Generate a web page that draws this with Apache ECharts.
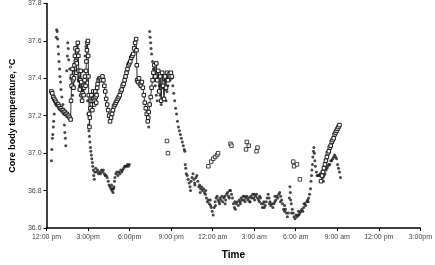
<!DOCTYPE html>
<html><head><meta charset="utf-8">
<script src="https://cdn.jsdelivr.net/npm/echarts@6/dist/echarts.min.js"></script>
<style>html,body{margin:0;padding:0;background:#fff}#c{width:435px;height:265px}</style>
</head><body><div id="c"></div>
<script>
// Hours since 12:00 pm, core body temperature (°C)
var xTickLabels = ["12:00 pm","3:00pm","6:00pm","9:00 pm","12:00 am","3:00 am","6:00 am","9:00 am","12:00 pm","3:00pm"];
var yTicks = [36.6, 36.8, 37.0, 37.2, 37.4, 37.6, 37.8];

// Subject A (filled dots), afternoon
var dotsDay = [
[0.35,36.96],[0.38,37.02],[0.42,37.08],[0.45,37.10],[0.49,37.14],[0.52,37.17],[0.56,37.21],
[0.70,37.62],[0.73,37.66],[0.77,37.65],[0.80,37.61],[0.84,37.57],[0.87,37.53],[0.90,37.49],[0.94,37.45],[0.97,37.41],[1.01,37.38],[1.04,37.34],[1.11,37.30],[1.18,37.26],[1.25,37.21],[1.29,37.15],[1.32,37.11],[1.36,37.08],[1.39,37.04],
[1.46,37.44],[1.50,37.52],[1.53,37.59],[1.57,37.56],[1.60,37.50],[1.67,37.45],[1.74,37.40],[1.81,37.35],[1.88,37.31],[1.95,37.36],[2.02,37.44],[2.09,37.52],[2.16,37.57],[2.23,37.49],[2.30,37.41],[2.37,37.36],[2.44,37.31],[2.51,37.28],[2.57,37.34],[2.64,37.39],[2.71,37.44],[2.78,37.52],[2.85,37.57],[2.88,37.49],[2.92,37.39],[2.96,37.28],
[2.99,37.21],[3.03,37.15],[3.06,37.12],[3.10,37.09],[3.13,37.06],[3.17,37.03],[3.20,37.01],[3.24,36.99],[3.27,36.97],[3.31,36.95],[3.34,36.93],[3.38,36.91],[3.41,36.88],[3.45,36.86],[3.48,36.90],[3.55,36.92],[3.62,36.90],[3.69,36.91],[3.76,36.89],[3.83,36.90],[3.90,36.89],[3.97,36.91],[4.04,36.90],[4.11,36.91],[4.18,36.89],[4.24,36.88],[4.31,36.88],[4.38,36.87],[4.45,36.85],[4.52,36.83],[4.59,36.82],[4.66,36.81],[4.70,36.83],[4.73,36.80],[4.77,36.81],[4.80,36.79],[4.84,36.81],[4.87,36.82],[4.91,36.85],[4.94,36.87],[5.01,36.89],[5.08,36.90],[5.15,36.88],[5.22,36.90],[5.29,36.89],[5.36,36.91],[5.43,36.90],[5.50,36.91],[5.57,36.92],[5.64,36.93],[5.71,36.93],[5.78,36.93],[5.85,36.94],[5.92,36.93],[5.98,36.94]
];
// Subject A, evening through morning
var dotsNight = [
[7.38,37.14],[7.45,37.65],[7.48,37.62],[7.52,37.59],[7.55,37.56],[7.59,37.53],[7.66,37.49],[7.72,37.45],[7.79,37.41],[7.86,37.36],[7.93,37.31],[8.00,37.28],[8.07,37.33],[8.14,37.36],[8.21,37.31],[8.28,37.26],[8.35,37.29],[8.42,37.35],[8.49,37.39],[8.56,37.34],[8.63,37.28],[8.70,37.33],[8.77,37.36],[8.91,37.39],[9.05,37.40],
[9.12,37.36],[9.19,37.32],[9.26,37.28],[9.32,37.24],[9.39,37.21],[9.46,37.17],[9.53,37.14],[9.60,37.12],[9.67,37.10],[9.74,37.08],[9.81,37.06],[9.88,37.04],[9.95,37.02],[9.99,37.01],
[10.02,36.94],[10.06,36.92],[10.09,36.89],[10.16,36.88],[10.23,36.86],[10.30,36.84],[10.37,36.82],[10.44,36.85],[10.51,36.87],[10.58,36.89],[10.65,36.86],[10.72,36.83],[10.79,36.87],[10.86,36.88],[10.93,36.85],[11.00,36.82],[11.06,36.83],[11.13,36.81],[11.20,36.82],[11.27,36.80],[11.34,36.81],[11.41,36.79],[11.48,36.78],[11.55,36.76],[11.62,36.74],[11.69,36.75],[11.76,36.73],[11.83,36.75],[11.90,36.71],[11.97,36.69],[12.04,36.67],[12.11,36.71],[12.18,36.74],[12.25,36.76],[12.32,36.77],[12.39,36.75],[12.46,36.74],[12.53,36.76],[12.60,36.75],[12.67,36.77],[12.73,36.74],[12.80,36.76],[12.87,36.77],[12.94,36.75],[13.01,36.78],[13.08,36.79],[13.15,36.77],[13.22,36.80],[13.29,36.80],[13.36,36.78],[13.43,36.76],[13.50,36.73],[13.57,36.71],[13.64,36.70],[13.71,36.73],[13.78,36.74],[13.85,36.72],[13.92,36.75],[13.99,36.74],[14.06,36.76],[14.13,36.75],[14.20,36.77],[14.27,36.75],[14.34,36.74],[14.41,36.76],[14.47,36.77],[14.54,36.75],[14.61,36.76],[14.68,36.74],[14.75,36.77],[14.82,36.76],[14.89,36.78],[14.96,36.76],[15.03,36.75],[15.10,36.77],[15.17,36.78],[15.24,36.76],[15.31,36.75],[15.38,36.74],[15.45,36.76],[15.52,36.73],[15.59,36.71],[15.66,36.73],[15.73,36.71],[15.80,36.72],[15.87,36.74],[15.94,36.76],[16.01,36.78],[16.08,36.76],[16.14,36.74],[16.21,36.72],[16.28,36.73],[16.35,36.71],[16.42,36.73],[16.49,36.74],[16.56,36.75],[16.63,36.77],[16.70,36.76],[16.77,36.78],[16.84,36.79],[16.91,36.77],[16.98,36.75],[17.05,36.73],[17.12,36.70],[17.19,36.69],[17.26,36.70],[17.33,36.68],[17.40,36.66],[17.47,36.68],[17.54,36.76],[17.58,36.82],[17.61,36.79],[17.64,36.75],[17.68,36.73],[17.75,36.70],[17.82,36.68],[17.88,36.66],[17.95,36.65],[18.02,36.67],[18.09,36.66],[18.16,36.67],[18.23,36.67],[18.30,36.68],[18.37,36.69],[18.44,36.70],[18.51,36.69],[18.58,36.71],[18.65,36.73],[18.72,36.72],[18.79,36.74],[18.86,36.75],[18.93,36.76],[19.00,36.78],[19.07,36.81],[19.10,36.85],[19.14,36.88],[19.17,36.91],[19.21,36.94],[19.24,36.98],[19.28,37.01],[19.31,37.03],[19.35,37.00],[19.38,36.96],[19.42,36.93],[19.49,36.90],[19.55,36.88],[19.62,36.88],[19.69,36.88],[19.76,36.89],[19.83,36.88],[19.90,36.90],[19.97,36.87],[20.00,36.85],[20.04,36.88],[20.11,36.89],[20.18,36.91],[20.25,36.92],[20.32,36.93],[20.39,36.94],[20.46,36.94],[20.53,36.96],[20.60,36.96],[20.67,36.97],[20.74,36.98],[20.81,36.99],[20.88,36.98],[20.95,36.97],[21.02,36.94],[21.09,36.92],[21.16,36.90],[21.23,36.87]
];
// Subject A, extra overlapping readings in the overnight band
var dotsNightBand = [
[10.40,36.80],[10.70,36.84],[11.10,36.79],[11.50,36.80],[11.85,36.72],[12.20,36.72],[12.50,36.73],[12.90,36.73],[13.20,36.76],[13.60,36.74],[14.00,36.73],[14.30,36.77],[14.70,36.74],[15.00,36.78],[15.40,36.77],[15.70,36.74],[16.10,36.73],[16.50,36.77],[16.90,36.74],[17.20,36.72],[17.70,36.68],[18.20,36.69],[18.60,36.73],[18.90,36.74]
];
// Subject B (open squares), afternoon and evening
var squaresDay = [
[0.35,37.33],[0.42,37.32],[0.49,37.30],[0.56,37.29],[0.63,37.28],[0.70,37.27],[0.77,37.26],[0.84,37.26],[0.90,37.25],[0.97,37.24],[1.04,37.24],[1.11,37.23],[1.18,37.23],[1.25,37.22],[1.32,37.22],[1.39,37.21],[1.46,37.21],[1.53,37.20],[1.60,37.20],[1.67,37.19],[1.74,37.18],
[1.77,37.28],[1.81,37.36],[1.84,37.41],[1.88,37.45],[1.91,37.39],[1.95,37.35],[1.98,37.40],[2.02,37.47],[2.05,37.52],[2.09,37.56],[2.12,37.49],[2.16,37.43],[2.19,37.48],[2.23,37.55],[2.26,37.59],[2.30,37.52],[2.33,37.44],[2.37,37.39],[2.40,37.34],[2.44,37.39],[2.47,37.44],[2.51,37.38],[2.54,37.31],[2.57,37.28],[2.61,37.32],[2.64,37.36],[2.68,37.31],[2.71,37.35],[2.75,37.39],[2.78,37.41],[2.82,37.36],[2.85,37.44],[2.88,37.49],[2.92,37.55],[2.96,37.59],[2.99,37.60],
[3.01,37.52],[3.03,37.41],[3.05,37.31],[3.08,37.21],[3.10,37.14],[3.13,37.19],[3.17,37.24],[3.20,37.28],[3.24,37.31],[3.27,37.26],[3.31,37.23],[3.34,37.28],[3.38,37.33],[3.41,37.29],[3.45,37.26],[3.48,37.28],[3.52,37.33],[3.55,37.30],[3.59,37.27],[3.62,37.31],[3.66,37.35],[3.69,37.37],[3.76,37.39],[3.83,37.40],[3.90,37.40],[3.97,37.39],[4.04,37.41],[4.11,37.39],[4.18,37.36],[4.24,37.33],[4.31,37.29],[4.38,37.26],[4.45,37.23],[4.52,37.20],[4.59,37.17],[4.66,37.19],[4.73,37.21],[4.80,37.23],[4.87,37.25],[4.94,37.26],[5.01,37.27],[5.08,37.28],[5.15,37.29],[5.22,37.30],[5.29,37.31],[5.36,37.33],[5.43,37.34],[5.50,37.36],[5.57,37.37],[5.64,37.39],[5.71,37.41],[5.78,37.43],[5.85,37.45],[5.92,37.47],[5.98,37.48],[6.05,37.49],[6.12,37.51],[6.19,37.52],[6.26,37.53],[6.33,37.56],[6.40,37.59],[6.47,37.61],
[6.50,37.55],[6.52,37.47],[6.54,37.39],[6.61,37.38],[6.68,37.40],[6.75,37.37],[6.82,37.36],[6.89,37.38],[6.96,37.35],[7.03,37.31],[7.10,37.27],[7.17,37.24],[7.24,37.21],[7.31,37.17],[7.35,37.19],[7.38,37.22],[7.45,37.26],[7.52,37.30],[7.59,37.35],[7.66,37.39],[7.72,37.43],[7.79,37.47],[7.86,37.41],[7.93,37.48],[8.00,37.39],[8.07,37.44],[8.14,37.33],[8.21,37.41],[8.28,37.28],[8.35,37.43],[8.42,37.36],[8.49,37.29],[8.56,37.41],[8.63,37.35],[8.70,37.43],[8.77,37.39],[8.84,37.42],[8.91,37.41],[8.98,37.43],[9.05,37.41]
];
// Subject B, scattered night readings
var squaresNight = [
[8.70,37.065],[8.77,37.00],[11.69,36.93],[11.90,36.955],[12.04,36.97],[12.18,36.98],[12.32,36.99],[12.39,37.00],
[13.29,37.05],[13.36,37.04],[14.41,37.02],[14.47,37.06],[14.61,37.04],[15.17,37.01],[15.24,37.03],
[17.82,36.955],[17.88,36.93],[18.09,36.94],[18.30,36.86]
];
// Subject B, morning rise
var squaresMorning = [
[19.83,36.85],[19.90,36.88],[19.97,36.90],[20.04,36.92],[20.11,36.94],[20.18,36.96],[20.25,36.98],[20.32,37.00],[20.39,37.01],[20.46,37.03],[20.53,37.04],[20.60,37.06],[20.67,37.07],[20.74,37.08],[20.81,37.10],[20.88,37.11],[20.95,37.12],[21.02,37.13],[21.09,37.14],[21.16,37.15]
];

var FONT = 'Liberation Sans, Arial, sans-serif';
var INK = '#1a1a1a';
var dotStyle = {type:'scatter', symbol:'circle', symbolSize:3, itemStyle:{color:INK}, silent:true, z:2};
var sqStyle = {symbol:'rect', symbolSize:3.5, itemStyle:{color:'#fff', borderColor:INK, borderWidth:1}, silent:true, z:3};

var chart = echarts.init(document.getElementById('c'), null, {renderer:'canvas'});
chart.setOption({
  animation:false,
  backgroundColor:'#fff',
  grid:{left:37, right:10, top:3, bottom:34, containLabel:false},
  xAxis:{
    type:'value', min:0, max:27, interval:3,
    name:'Time', nameLocation:'middle', nameGap:22,
    nameTextStyle:{fontFamily:FONT, fontSize:10, fontWeight:'bold', color:'#000'},
    axisLine:{lineStyle:{color:'#000', width:1.5}},
    axisTick:{show:true, length:3, lineStyle:{color:'#000', width:1}},
    axisLabel:{fontFamily:FONT, fontSize:7, color:'#444', margin:6,
      formatter:function(v){ return xTickLabels[Math.round(v/3)] || ''; }},
    splitLine:{show:false}
  },
  yAxis:{
    type:'value', min:yTicks[0], max:yTicks[yTicks.length-1], interval:0.2,
    name:'Core body temperature, °C', nameLocation:'middle', nameGap:27,
    nameTextStyle:{fontFamily:FONT, fontSize:9, fontWeight:'bold', color:'#000'},
    axisLine:{show:true, lineStyle:{color:'#000', width:1.5}},
    axisTick:{show:true, length:3, lineStyle:{color:'#000', width:1}},
    axisLabel:{fontFamily:FONT, fontSize:7, color:'#444', margin:5,
      formatter:function(v){ return v.toFixed(1); }},
    splitLine:{show:false}
  },
  series:[
    Object.assign({data:dotsDay}, dotStyle),
    Object.assign({data:dotsNight}, dotStyle),
    Object.assign({data:dotsNightBand}, dotStyle),
    Object.assign({type:'line', data:squaresDay, lineStyle:{color:INK, width:0.9}, showSymbol:true}, sqStyle),
    Object.assign({type:'scatter', data:squaresNight}, sqStyle),
    Object.assign({type:'line', data:squaresMorning, lineStyle:{color:INK, width:0.7}, showSymbol:true}, sqStyle)
  ]
});
</script></body></html>
